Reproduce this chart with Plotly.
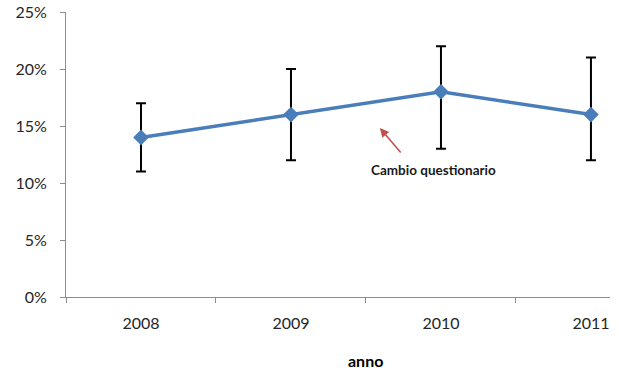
import plotly.graph_objects as go

years = ["2008", "2009", "2010", "2011"]
values = [14, 16, 18, 16]
err_high = [17, 20, 22, 21]
err_low = [11, 12, 13, 12]
y_ticks = [0, 5, 10, 15, 20, 25]
y_tick_labels = [f"{v}%" for v in y_ticks]

err_plus = [h - v for h, v in zip(err_high, values)]
err_minus = [v - l for v, l in zip(values, err_low)]

FONT = "Lato, 'Open Sans', sans-serif"

fig = go.Figure()
fig.add_trace(go.Scatter(
    x=years, y=values, mode="lines+markers",
    line=dict(color="#4a7ebb", width=3.5),
    marker=dict(symbol="diamond", size=12, color="#4a7ebb"),
    error_y=dict(type="data", symmetric=False, array=err_plus, arrayminus=err_minus,
                 color="black", thickness=2, width=5),
    showlegend=False,
))

fig.update_layout(
    width=619, height=371,
    margin=dict(l=66, r=9, t=12, b=74),
    paper_bgcolor="white", plot_bgcolor="white",
    font=dict(family=FONT, size=16, color="#262626"),
    xaxis=dict(
        type="category", range=[-0.5, 3.127], tickson="boundaries",
        ticks="outside", ticklen=5, tickcolor="#8c8c8c",
        showline=True, linecolor="#8c8c8c", linewidth=1,
        showgrid=False, zeroline=False, automargin=False,
        tickfont=dict(size=16), ticklabelstandoff=12,
        ticklabeloverflow="allow",
    ),
    yaxis=dict(
        range=[0, 25], tickmode="array", tickvals=y_ticks, ticktext=y_tick_labels,
        ticks="outside", ticklen=5, tickcolor="#8c8c8c",
        showline=True, linecolor="#8c8c8c", linewidth=1,
        showgrid=False, zeroline=False, automargin=False,
        tickfont=dict(size=16), ticklabelstandoff=10,
        ticklabeloverflow="allow",
    ),
)

fig.add_annotation(
    x=1.5, y=0, xref="x", yref="paper", yshift=-75,
    text="<b>anno</b>", showarrow=False,
    font=dict(size=16, color="black", family=FONT),
)

fig.add_annotation(
    x=1.593, y=14.82, xref="x", yref="y",
    ax=22, ay=26, axref="pixel", ayref="pixel",
    text="", showarrow=True, arrowhead=2, arrowsize=1.2, arrowwidth=1.5,
    arrowcolor="#c0504d",
)
fig.add_annotation(
    x=1.947, y=11.1, xref="x", yref="y",
    text="<b>Cambio questionario</b>", showarrow=False,
    font=dict(size=13.5, color="#1a1a1a", family=FONT),
)

fig.write_html("out.html", config={"displayModeBar": False},
               post_script="document.body.style.margin='0';")
